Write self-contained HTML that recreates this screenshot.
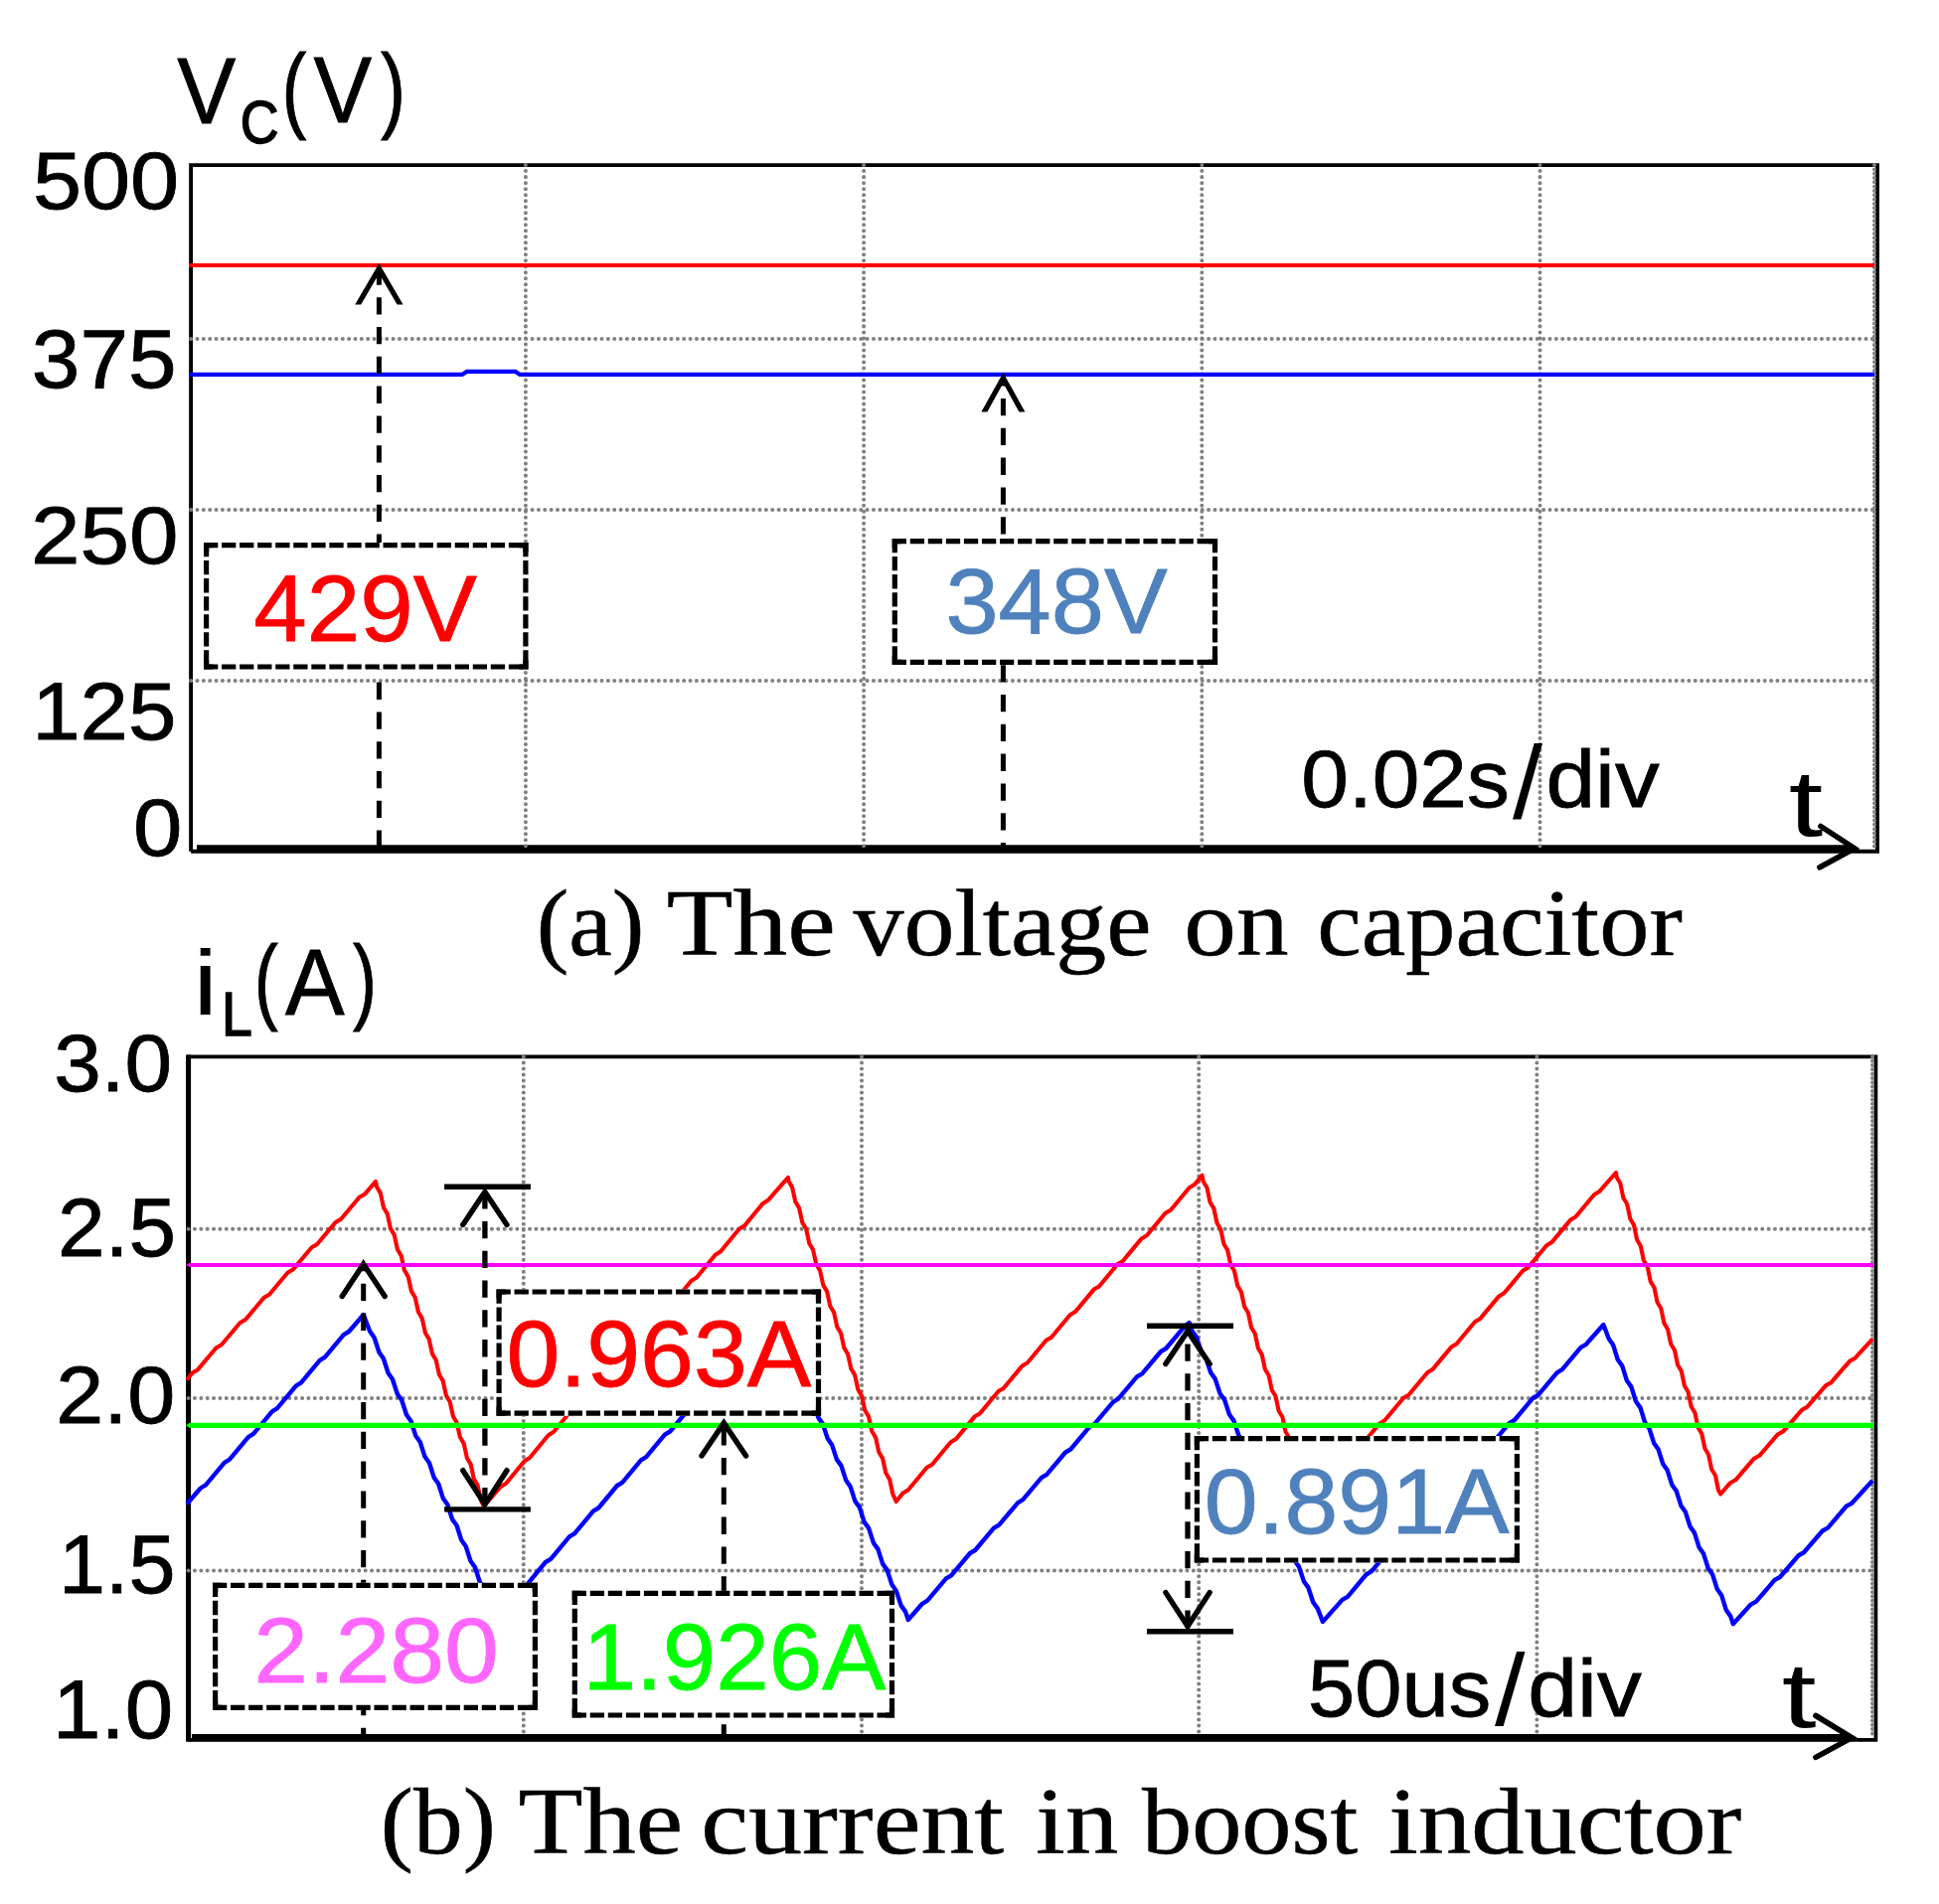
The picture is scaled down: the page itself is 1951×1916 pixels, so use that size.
<!DOCTYPE html>
<html><head><meta charset="utf-8"><title>Figure</title>
<style>html,body{margin:0;padding:0;background:#fff}svg{display:block}</style></head>
<body>
<svg width="1951" height="1916" viewBox="0 0 1951 1916">
<style>.grid{stroke:#808080;stroke-width:4;stroke-linecap:round;fill:none} text{font-kerning:none;white-space:pre}</style>
<rect width="1951" height="1916" fill="#fff"/>
<polyline points="192.1,856.8 192.1,166.1 1889,166.1 1889,856.8 192.1,856.8" fill="none" stroke="#000" stroke-width="3.9" stroke-linejoin="miter"/>
<line x1="198" y1="853.7" x2="1864" y2="853.7" stroke="#000" stroke-width="7"/>
<line x1="192.1" y1="341" x2="1886" y2="341" class="grid" stroke-dasharray="0.01 6.35"/>
<line x1="192.1" y1="513.1" x2="1886" y2="513.1" class="grid" stroke-dasharray="0.01 6.35"/>
<line x1="192.1" y1="685" x2="1886" y2="685" class="grid" stroke-dasharray="0.01 6.35"/>
<line x1="528.9" y1="166.1" x2="528.9" y2="852.8" class="grid" stroke-dasharray="0.01 6.0"/>
<line x1="869.1" y1="166.1" x2="869.1" y2="852.8" class="grid" stroke-dasharray="0.01 6.0"/>
<line x1="1209.3" y1="166.1" x2="1209.3" y2="852.8" class="grid" stroke-dasharray="0.01 6.0"/>
<line x1="1549.5" y1="166.1" x2="1549.5" y2="852.8" class="grid" stroke-dasharray="0.01 6.0"/>
<line x1="1886" y1="166.1" x2="1886" y2="852.8" class="grid" stroke-dasharray="0.01 4.3"/>
<line x1="190.2" y1="267" x2="1886" y2="267" stroke="#f00" stroke-width="4"/>
<polyline points="190.2,376.9 465,376.9 469.7,373.9 518.6,373.9 523,376.9 1886,376.9" fill="none" stroke="#00f" stroke-width="4.2"/>
<line x1="381.4" y1="271" x2="381.4" y2="854" stroke="#000" stroke-width="5.0" stroke-dasharray="17.3 12.5" stroke-dashoffset="1.60"/>
<polygon points="381.4,265.0 405.6,306.5 399.6,306.5 381.4,275.2 363.2,306.5 357.2,306.5" fill="#000"/>
<line x1="1009.4" y1="381" x2="1009.4" y2="854" stroke="#000" stroke-width="5.0" stroke-dasharray="17.3 12.5" stroke-dashoffset="9.80"/>
<polygon points="1009.4,375.0 1031.4,414.5 1025.4,414.5 1009.4,385.5 993.4,414.5 987.4,414.5" fill="#000"/>
<polyline points="1832,831.5 1866,853.7 1831,872.8" fill="none" stroke="#000" stroke-width="5.6" stroke-linecap="round" stroke-linejoin="miter"/>
<rect x="205.0" y="546.0" width="326.5" height="127.6" fill="#fff"/>
<path d="M205.0,548.6H531.5M528.9,546.0V673.6M205.0,671H531.5M207.6,546.0V673.6" stroke="#000" stroke-width="5.2" stroke-dasharray="14.3 3.75" fill="none"/>
<path d="M205.0,548.6h9.2M531.5,548.6h-9.2M205.0,671h9.2M531.5,671h-9.2M207.6,546.0v9.2M528.9,546.0v9.2M207.6,673.6v-9.2M528.9,673.6v-9.2" stroke="#000" stroke-width="5.2" fill="none"/>
<rect x="897.7" y="542.0" width="327.4" height="127.0" fill="#fff"/>
<path d="M897.7,544.6H1225.1M1222.5,542.0V669.0M897.7,666.4H1225.1M900.3,542.0V669.0" stroke="#000" stroke-width="5.2" stroke-dasharray="14.3 3.75" fill="none"/>
<path d="M897.7,544.6h9.2M1225.1,544.6h-9.2M897.7,666.4h9.2M1225.1,666.4h-9.2M900.3,542.0v9.2M1222.5,542.0v9.2M900.3,669.0v-9.2M1222.5,669.0v-9.2" stroke="#000" stroke-width="5.2" fill="none"/>
<text transform="translate(255.14,644.60) scale(1.0176,1)" font-size="94.55" fill="#f00" stroke="#f00" stroke-width="0.8" font-family='"Liberation Sans", Arial, sans-serif'>429V</text>
<text transform="translate(951.41,637.30) scale(1.0320,1)" font-size="92.65" fill="#4f81bd" stroke="#4f81bd" stroke-width="0.8" font-family='"Liberation Sans", Arial, sans-serif'>348V</text>
<text y="123.50" fill="#000" stroke="#000" stroke-width="0.8" font-family='"Liberation Sans", Arial, sans-serif'><tspan x="178.36" dy="0.00" font-size="94.98" textLength="59.04" lengthAdjust="spacingAndGlyphs">V</tspan><tspan x="241.72" dy="20.48" font-size="61.77" stroke-width="1.6" textLength="38.71" lengthAdjust="spacingAndGlyphs">C</tspan><tspan x="283.53" dy="-23.48" font-size="93.94" textLength="24.87" lengthAdjust="spacingAndGlyphs">(</tspan><tspan x="315.56" dy="2.99" font-size="94.98" textLength="58.64" lengthAdjust="spacingAndGlyphs">V</tspan><tspan x="382.93" dy="-2.99" font-size="93.94" textLength="25.12" lengthAdjust="spacingAndGlyphs">)</tspan></text>
<text transform="translate(32.97,210.38) scale(1.0820,1)" font-size="81.55" fill="#000" stroke="#000" stroke-width="0.8" font-family='"Liberation Sans", Arial, sans-serif'>500</text>
<text transform="translate(31.82,390.47) scale(1.0583,1)" font-size="82.54" fill="#000" stroke="#000" stroke-width="0.8" font-family='"Liberation Sans", Arial, sans-serif'>375</text>
<text transform="translate(30.94,567.38) scale(1.0852,1)" font-size="82.12" fill="#000" stroke="#000" stroke-width="0.8" font-family='"Liberation Sans", Arial, sans-serif'>250</text>
<text transform="translate(32.16,744.18) scale(1.0612,1)" font-size="82.12" fill="#000" stroke="#000" stroke-width="0.8" font-family='"Liberation Sans", Arial, sans-serif'>125</text>
<text transform="translate(134.05,861.38) scale(1.0813,1)" font-size="82.12" fill="#000" stroke="#000" stroke-width="0.8" font-family='"Liberation Sans", Arial, sans-serif'>0</text>
<text y="812.08" fill="#000" stroke="#000" stroke-width="0.8" font-family='"Liberation Sans", Arial, sans-serif'><tspan x="1309.27" dy="0.00" font-size="82.12" textLength="209.52" lengthAdjust="spacingAndGlyphs">0.02s</tspan><tspan x="1522.00" dy="10.79" font-size="102.99" stroke-width="0" textLength="30.04" lengthAdjust="spacingAndGlyphs">/</tspan><tspan x="1555.40" dy="-10.79" font-size="82.12" textLength="114.32" lengthAdjust="spacingAndGlyphs">div</tspan></text>
<text transform="translate(1799.84,840.59) scale(1.3211,1)" font-size="94.10" fill="#000" font-family='"Liberation Sans", Arial, sans-serif'>t</text>
<text y="961.40" fill="#000" stroke="#000" stroke-width="0.5" font-family='"Liberation Serif", "Times New Roman", serif'><tspan x="539.70" dy="0.00" font-size="94.50" textLength="108.55" lengthAdjust="spacingAndGlyphs">(a)</tspan> <tspan x="670.69" dy="0.00" font-size="94.50" textLength="170.01" lengthAdjust="spacingAndGlyphs">The</tspan> <tspan x="858.50" dy="0.00" font-size="94.50" textLength="300.10" lengthAdjust="spacingAndGlyphs">voltage</tspan> <tspan x="1191.35" dy="0.00" font-size="94.50" textLength="105.22" lengthAdjust="spacingAndGlyphs">on</tspan> <tspan x="1325.24" dy="0.00" font-size="94.50" textLength="367.57" lengthAdjust="spacingAndGlyphs">capacitor</tspan></text>
<polyline points="189.6,1750.9 189.6,1063.4 1887.4,1063.4 1887.4,1750.9 189.6,1750.9" fill="none" stroke="#000" stroke-width="3.8" stroke-linejoin="miter"/>
<line x1="189.6" y1="1061.4" x2="189.6" y2="1752.7" stroke="#000" stroke-width="5"/>
<line x1="193" y1="1748.6" x2="1861" y2="1748.6" stroke="#000" stroke-width="7.4"/>
<line x1="189.6" y1="1236.8" x2="1884.4" y2="1236.8" class="grid" stroke-dasharray="0.01 6.35"/>
<line x1="189.6" y1="1407" x2="1884.4" y2="1407" class="grid" stroke-dasharray="0.01 6.35"/>
<line x1="189.6" y1="1580.6" x2="1884.4" y2="1580.6" class="grid" stroke-dasharray="0.01 6.35"/>
<line x1="526.8" y1="1063.4" x2="526.8" y2="1746.9" class="grid" stroke-dasharray="0.01 6.0"/>
<line x1="867" y1="1063.4" x2="867" y2="1746.9" class="grid" stroke-dasharray="0.01 6.0"/>
<line x1="1206.2" y1="1063.4" x2="1206.2" y2="1746.9" class="grid" stroke-dasharray="0.01 6.0"/>
<line x1="1546.4" y1="1063.4" x2="1546.4" y2="1746.9" class="grid" stroke-dasharray="0.01 6.0"/>
<line x1="1884" y1="1063.4" x2="1884" y2="1746.9" class="grid" stroke-dasharray="0.01 4.3"/>
<polyline points="188.0,1388.6 193.6,1381.5 198.9,1378.4 217.6,1356.2 222.9,1353.2 241.6,1331.0 246.9,1328.0 265.6,1305.8 270.9,1302.7 289.6,1280.5 294.9,1277.5 313.6,1255.3 318.9,1252.2 337.6,1230.1 342.9,1227.0 361.6,1204.8 366.9,1201.8 378.0,1188.8 379.0,1194.3 382.8,1200.6 386.0,1215.3 389.8,1221.6 392.9,1236.3 396.7,1242.6 399.9,1257.3 403.7,1263.6 406.9,1278.3 410.7,1284.6 413.9,1299.3 417.7,1305.6 420.9,1320.3 424.7,1326.6 427.9,1341.3 431.7,1347.6 434.9,1362.3 438.7,1368.6 441.9,1383.3 445.7,1389.6 448.9,1404.3 452.7,1410.6 455.9,1425.3 459.7,1431.6 462.9,1446.3 466.7,1452.6 469.9,1467.3 473.7,1473.6 476.8,1488.3 480.6,1494.6 483.8,1509.3 486.8,1515.6 503.7,1496.1 509.0,1492.9 527.7,1470.2 533.0,1467.0 551.7,1444.2 557.0,1441.0 575.7,1418.3 581.0,1415.1 599.7,1392.4 605.0,1389.2 623.7,1366.5 629.0,1363.2 647.7,1340.5 653.0,1337.3 671.7,1314.6 677.0,1311.4 695.7,1288.7 701.0,1285.5 719.7,1262.7 725.0,1259.5 743.7,1236.8 749.0,1233.6 767.7,1210.9 773.0,1207.7 793.0,1184.8 793.3,1188.3 797.1,1194.6 800.3,1209.3 804.1,1215.6 807.3,1230.3 811.1,1236.6 814.3,1251.3 818.1,1257.6 821.3,1272.3 825.1,1278.6 828.3,1293.3 832.1,1299.6 835.3,1314.3 839.1,1320.6 842.3,1335.3 846.1,1341.6 849.3,1356.3 853.1,1362.6 856.3,1377.3 860.1,1383.6 863.3,1398.3 867.1,1404.6 870.3,1419.3 874.1,1425.6 877.3,1440.3 881.1,1446.6 884.3,1461.3 888.1,1467.6 891.3,1482.3 895.1,1488.6 898.3,1503.3 901.7,1511.0 908.6,1502.4 913.9,1499.3 932.6,1476.8 937.9,1473.7 956.6,1451.2 961.9,1448.1 980.6,1425.6 985.9,1422.5 1004.6,1400.0 1009.9,1396.9 1028.6,1374.4 1033.9,1371.3 1052.6,1348.8 1057.9,1345.7 1076.6,1323.2 1081.9,1320.1 1100.6,1297.6 1105.9,1294.5 1124.6,1272.0 1129.9,1268.9 1148.6,1246.4 1153.9,1243.3 1172.6,1220.8 1177.9,1217.7 1196.6,1195.2 1201.9,1192.1 1209.5,1182.7 1210.6,1188.7 1214.4,1195.0 1217.5,1209.7 1221.3,1216.0 1224.5,1230.7 1228.2,1237.0 1231.4,1251.7 1235.1,1258.0 1238.3,1272.7 1242.0,1279.0 1245.2,1293.7 1248.9,1300.0 1252.1,1314.7 1255.9,1321.0 1259.0,1335.7 1262.8,1342.0 1265.9,1356.7 1269.7,1363.0 1272.8,1377.7 1276.6,1384.0 1279.7,1398.7 1283.5,1405.0 1286.6,1419.7 1290.4,1426.0 1293.5,1440.7 1297.3,1447.0 1300.4,1461.7 1304.2,1468.0 1307.3,1482.7 1311.1,1489.0 1314.3,1503.7 1317.0,1509.5 1321.4,1506.0 1340.2,1483.6 1345.4,1480.4 1364.2,1458.0 1369.4,1454.8 1388.2,1432.4 1393.4,1429.2 1412.2,1406.8 1417.4,1403.7 1436.2,1381.2 1441.4,1378.1 1460.2,1355.6 1465.4,1352.5 1484.2,1330.0 1489.4,1326.9 1508.2,1304.4 1513.4,1301.3 1532.2,1278.8 1537.4,1275.7 1556.2,1253.2 1561.4,1250.1 1580.2,1227.6 1585.4,1224.5 1604.2,1202.0 1609.4,1198.9 1626.0,1180.0 1626.6,1184.5 1630.3,1190.8 1633.4,1205.5 1637.2,1211.8 1640.3,1226.5 1644.0,1232.8 1647.1,1247.5 1650.8,1253.8 1653.9,1268.5 1657.7,1274.8 1660.7,1289.5 1664.5,1295.8 1667.6,1310.5 1671.3,1316.8 1674.4,1331.5 1678.1,1337.8 1681.2,1352.5 1685.0,1358.8 1688.1,1373.5 1691.8,1379.8 1694.9,1394.5 1698.6,1400.8 1701.7,1415.5 1705.5,1421.8 1708.5,1436.5 1712.3,1442.8 1715.4,1457.5 1719.1,1463.8 1722.2,1478.5 1726.0,1484.8 1729.0,1499.5 1731.2,1503.5 1741.0,1492.2 1746.3,1489.3 1765.0,1467.7 1770.3,1464.8 1789.0,1443.2 1794.3,1440.4 1813.0,1418.8 1818.3,1415.9 1837.0,1394.3 1842.3,1391.4 1861.0,1369.8 1866.3,1366.9 1884.0,1347.6" fill="none" stroke="#f00" stroke-width="4.1" stroke-linejoin="round"/>
<polyline points="188.0,1513.5 201.8,1497.5 207.0,1494.3 225.8,1471.8 231.0,1468.6 249.8,1446.1 255.0,1442.9 273.8,1420.3 279.0,1417.2 297.8,1394.6 303.0,1391.4 321.8,1368.9 327.0,1365.7 345.8,1343.1 351.0,1340.0 365.7,1323.0 372.2,1339.7 376.6,1346.0 381.4,1360.7 385.8,1367.0 390.6,1381.7 395.0,1388.0 399.8,1402.7 404.2,1409.0 409.0,1423.7 413.5,1430.0 418.2,1444.7 422.7,1451.0 427.4,1465.7 431.9,1472.0 436.6,1486.7 441.1,1493.0 445.8,1507.7 450.3,1514.0 455.0,1528.7 459.5,1535.0 464.2,1549.7 468.7,1556.0 473.4,1570.7 477.9,1577.0 482.7,1591.7 487.1,1598.0 491.9,1612.7 496.3,1619.0 498.9,1626.8 506.2,1620.3 524.9,1597.7 530.2,1594.6 548.9,1572.0 554.2,1568.9 572.9,1546.4 578.2,1543.2 596.9,1520.7 602.2,1517.5 620.9,1495.0 626.2,1491.8 644.9,1469.3 650.2,1466.2 668.9,1443.6 674.2,1440.5 692.9,1418.0 698.2,1414.8 716.9,1392.3 722.2,1389.1 740.9,1366.6 746.2,1363.4 764.9,1340.9 770.2,1337.8 780.0,1326.0 786.5,1342.6 790.9,1348.9 795.7,1363.6 800.2,1369.9 804.9,1384.6 809.4,1390.9 814.2,1405.6 818.7,1411.9 823.4,1426.6 827.9,1432.9 832.7,1447.6 837.1,1453.9 841.9,1468.6 846.4,1474.9 851.2,1489.6 855.6,1495.9 860.4,1510.6 864.9,1516.9 869.6,1531.6 874.1,1537.9 878.9,1552.6 883.4,1558.9 888.1,1573.6 892.6,1579.9 897.4,1594.6 901.8,1600.9 906.6,1615.6 911.1,1621.9 913.8,1630.0 928.0,1613.8 933.2,1610.7 952.0,1588.4 957.2,1585.3 976.0,1563.0 981.2,1560.0 1000.0,1537.7 1005.2,1534.6 1024.0,1512.3 1029.2,1509.2 1048.0,1486.9 1053.2,1483.8 1072.0,1461.5 1077.2,1458.5 1096.0,1436.2 1101.2,1433.1 1120.0,1410.8 1125.2,1407.7 1144.0,1385.4 1149.2,1382.3 1168.0,1360.0 1173.2,1357.0 1192.0,1334.7 1196.6,1331.0 1199.4,1339.3 1203.9,1345.6 1208.8,1360.3 1213.3,1366.6 1218.2,1381.3 1222.7,1387.6 1227.5,1402.3 1232.1,1408.6 1236.9,1423.3 1241.4,1429.6 1246.3,1444.3 1250.8,1450.6 1255.7,1465.3 1260.2,1471.6 1265.0,1486.3 1269.5,1492.6 1274.4,1507.3 1278.9,1513.6 1283.8,1528.3 1288.3,1534.6 1293.1,1549.3 1297.6,1555.6 1302.5,1570.3 1307.0,1576.6 1311.9,1591.3 1316.4,1597.6 1321.2,1612.3 1325.8,1618.6 1330.9,1632.0 1350.6,1609.9 1355.9,1606.8 1374.6,1584.5 1379.9,1581.4 1398.6,1559.1 1403.9,1556.0 1422.6,1533.7 1427.9,1530.6 1446.6,1508.3 1451.9,1505.2 1470.6,1482.9 1475.9,1479.8 1494.6,1457.5 1499.9,1454.4 1518.6,1432.1 1523.9,1429.0 1542.6,1406.7 1547.9,1403.6 1566.6,1381.3 1571.9,1378.2 1590.6,1355.9 1595.9,1352.8 1613.4,1333.0 1618.8,1347.3 1623.2,1353.6 1627.8,1368.3 1632.3,1374.6 1636.9,1389.3 1641.4,1395.6 1646.0,1410.3 1650.5,1416.6 1655.1,1431.3 1659.5,1437.6 1664.2,1452.3 1668.6,1458.6 1673.3,1473.3 1677.7,1479.6 1682.4,1494.3 1686.8,1500.6 1691.5,1515.3 1695.9,1521.6 1700.6,1536.3 1705.0,1542.6 1709.7,1557.3 1714.1,1563.6 1718.8,1578.3 1723.2,1584.6 1727.9,1599.3 1732.3,1605.6 1736.9,1620.3 1741.4,1626.6 1743.8,1634.2 1761.7,1614.6 1767.0,1611.6 1785.7,1589.9 1791.0,1587.0 1809.7,1565.2 1815.0,1562.3 1833.7,1540.5 1839.0,1537.6 1857.7,1515.8 1863.0,1512.9 1884.0,1490.0" fill="none" stroke="#00f" stroke-width="4.4" stroke-linejoin="round"/>
<polygon points="187,1273 191,1271.1 1885,1271.1 1885,1274.9 191,1274.9" fill="#f0f"/>
<polygon points="187,1434.3 191,1431.7 1885,1431.7 1885,1436.9 191,1436.9" fill="#0f0"/>
<line x1="365.7" y1="1272" x2="365.7" y2="1749" stroke="#000" stroke-width="5.0" stroke-dasharray="17.3 12.5" stroke-dashoffset="10.00"/>
<polyline points="344.2,1304.4 365.7,1272.0 387.2,1304.4" fill="none" stroke="#000" stroke-width="5.4" stroke-linecap="round" stroke-linejoin="miter" stroke-miterlimit="10"/>
<line x1="728.3" y1="1432" x2="728.3" y2="1749" stroke="#000" stroke-width="5.0" stroke-dasharray="17.3 12.5" stroke-dashoffset="24.60"/>
<polyline points="706.0,1465 728.3,1431.9 750.6,1465" fill="none" stroke="#000" stroke-width="5.4" stroke-linecap="round" stroke-linejoin="miter" stroke-miterlimit="10"/>
<line x1="487.9" y1="1196" x2="487.9" y2="1517" stroke="#000" stroke-width="5.3" stroke-dasharray="17.3 12.5" stroke-dashoffset="26.70"/>
<line x1="447.1" y1="1194.3" x2="533.9" y2="1194.3" stroke="#000" stroke-width="5.4"/>
<line x1="447.1" y1="1518.9" x2="533.9" y2="1518.9" stroke="#000" stroke-width="5.4"/>
<polyline points="465.8,1232.5 487.9,1199.4 510.0,1232.5" fill="none" stroke="#000" stroke-width="5.4" stroke-linecap="round" stroke-linejoin="miter" stroke-miterlimit="10"/>
<polyline points="465.8,1479.7 487.9,1513.9 510.0,1479.7" fill="none" stroke="#000" stroke-width="5.4" stroke-linecap="round" stroke-linejoin="miter" stroke-miterlimit="10"/>
<line x1="1195" y1="1336" x2="1195" y2="1640" stroke="#000" stroke-width="5.3" stroke-dasharray="17.3 12.5" stroke-dashoffset="13.40"/>
<line x1="1154" y1="1334.3" x2="1241" y2="1334.3" stroke="#000" stroke-width="5.4"/>
<line x1="1154" y1="1641.7" x2="1241" y2="1641.7" stroke="#000" stroke-width="5.4"/>
<polyline points="1172.9,1372.5 1195,1339.4 1217.1,1372.5" fill="none" stroke="#000" stroke-width="5.4" stroke-linecap="round" stroke-linejoin="miter" stroke-miterlimit="10"/>
<polyline points="1172.9,1602.6 1195,1636.5 1217.1,1602.6" fill="none" stroke="#000" stroke-width="5.4" stroke-linecap="round" stroke-linejoin="miter" stroke-miterlimit="10"/>
<polyline points="1827,1726.5 1863.3,1748.6 1827,1768.4" fill="none" stroke="#000" stroke-width="5.6" stroke-linecap="round" stroke-linejoin="miter"/>
<rect x="499.5" y="1297.4" width="326.6" height="127.4" fill="#fff"/>
<path d="M499.5,1300H826.1M823.5,1297.4V1424.8M499.5,1422.2H826.1M502.1,1297.4V1424.8" stroke="#000" stroke-width="5.2" stroke-dasharray="14.3 3.75" fill="none"/>
<path d="M499.5,1300h9.2M826.1,1300h-9.2M499.5,1422.2h9.2M826.1,1422.2h-9.2M502.1,1297.4v9.2M823.5,1297.4v9.2M502.1,1424.8v-9.2M823.5,1424.8v-9.2" stroke="#000" stroke-width="5.2" fill="none"/>
<rect x="214.0" y="1592.8" width="327.0" height="128.2" fill="#fff"/>
<path d="M214.0,1595.4H541.0M538.4,1592.8V1721.0M214.0,1718.4H541.0M216.6,1592.8V1721.0" stroke="#000" stroke-width="5.2" stroke-dasharray="14.3 3.75" fill="none"/>
<path d="M214.0,1595.4h9.2M541.0,1595.4h-9.2M214.0,1718.4h9.2M541.0,1718.4h-9.2M216.6,1592.8v9.2M538.4,1592.8v9.2M216.6,1721.0v-9.2M538.4,1721.0v-9.2" stroke="#000" stroke-width="5.2" fill="none"/>
<rect x="575.7" y="1600.8" width="324.4" height="127.8" fill="#fff"/>
<path d="M575.7,1603.4H900.1M897.5,1600.8V1728.6M575.7,1726H900.1M578.3,1600.8V1728.6" stroke="#000" stroke-width="5.2" stroke-dasharray="14.3 3.75" fill="none"/>
<path d="M575.7,1603.4h9.2M900.1,1603.4h-9.2M575.7,1726h9.2M900.1,1726h-9.2M578.3,1600.8v9.2M897.5,1600.8v9.2M578.3,1728.6v-9.2M897.5,1728.6v-9.2" stroke="#000" stroke-width="5.2" fill="none"/>
<rect x="1201.8" y="1445.0" width="327.2" height="127.6" fill="#fff"/>
<path d="M1201.8,1447.6H1529.0M1526.4,1445.0V1572.6M1201.8,1570H1529.0M1204.4,1445.0V1572.6" stroke="#000" stroke-width="5.2" stroke-dasharray="14.3 3.75" fill="none"/>
<path d="M1201.8,1447.6h9.2M1529.0,1447.6h-9.2M1201.8,1570h9.2M1529.0,1570h-9.2M1204.4,1445.0v9.2M1526.4,1445.0v9.2M1204.4,1572.6v-9.2M1526.4,1572.6v-9.2" stroke="#000" stroke-width="5.2" fill="none"/>
<text transform="translate(509.53,1395.06) scale(1.0344,1)" font-size="93.57" fill="#f00" stroke="#f00" stroke-width="0.8" font-family='"Liberation Sans", Arial, sans-serif'>0.963A</text>
<text transform="translate(255.27,1693.47) scale(1.0548,1)" font-size="93.43" fill="#f6f" stroke="#f6f" stroke-width="0.8" font-family='"Liberation Sans", Arial, sans-serif'>2.280</text>
<text transform="translate(586.38,1699.75) scale(1.0184,1)" font-size="94.56" fill="#0f0" stroke="#0f0" stroke-width="0.8" font-family='"Liberation Sans", Arial, sans-serif'>1.926A</text>
<text transform="translate(1211.83,1543.47) scale(1.0372,1)" font-size="93.29" fill="#4f81bd" stroke="#4f81bd" stroke-width="0.8" font-family='"Liberation Sans", Arial, sans-serif'>0.891A</text>
<text y="1021.10" fill="#000" stroke="#000" stroke-width="0.8" font-family='"Liberation Sans", Arial, sans-serif'><tspan x="194.24" dy="0.00" font-size="92.00" stroke-width="0" textLength="24.88" lengthAdjust="spacingAndGlyphs">i</tspan><tspan x="223.12" dy="21.00" font-size="62.11" stroke-width="1.6" textLength="30.84" lengthAdjust="spacingAndGlyphs">L</tspan><tspan x="255.78" dy="-23.70" font-size="94.48" textLength="24.10" lengthAdjust="spacingAndGlyphs">(</tspan><tspan x="286.88" dy="2.70" font-size="94.55" textLength="59.60" lengthAdjust="spacingAndGlyphs">A</tspan><tspan x="355.06" dy="-2.70" font-size="94.48" textLength="24.10" lengthAdjust="spacingAndGlyphs">)</tspan></text>
<text transform="translate(54.29,1098.48) scale(1.0400,1)" font-size="82.26" fill="#000" stroke="#000" stroke-width="0.8" font-family='"Liberation Sans", Arial, sans-serif'>3.0</text>
<text transform="translate(58.12,1264.17) scale(1.0288,1)" font-size="83.30" fill="#000" stroke="#000" stroke-width="0.8" font-family='"Liberation Sans", Arial, sans-serif'>2.5</text>
<text transform="translate(56.28,1432.38) scale(1.0482,1)" font-size="82.40" fill="#000" stroke="#000" stroke-width="0.8" font-family='"Liberation Sans", Arial, sans-serif'>2.0</text>
<text transform="translate(58.96,1603.26) scale(1.0098,1)" font-size="83.73" fill="#000" stroke="#000" stroke-width="0.8" font-family='"Liberation Sans", Arial, sans-serif'>1.5</text>
<text transform="translate(53.07,1748.57) scale(1.0555,1)" font-size="82.54" fill="#000" stroke="#000" stroke-width="0.8" font-family='"Liberation Sans", Arial, sans-serif'>1.0</text>
<text y="1726.78" fill="#000" stroke="#000" stroke-width="0.8" font-family='"Liberation Sans", Arial, sans-serif'><tspan x="1316.00" dy="0.00" font-size="82.26" textLength="184.26" lengthAdjust="spacingAndGlyphs">50us</tspan><tspan x="1504.00" dy="9.70" font-size="102.18" stroke-width="0" textLength="30.54" lengthAdjust="spacingAndGlyphs">/</tspan><tspan x="1537.19" dy="-9.70" font-size="82.26" textLength="114.74" lengthAdjust="spacingAndGlyphs">div</tspan></text>
<text transform="translate(1792.72,1738.41) scale(1.3624,1)" font-size="92.11" fill="#000" font-family='"Liberation Sans", Arial, sans-serif'>t</text>
<text y="1865.20" fill="#000" stroke="#000" stroke-width="0.5" font-family='"Liberation Serif", "Times New Roman", serif'><tspan x="382.82" dy="0.00" font-size="94.50" textLength="116.01" lengthAdjust="spacingAndGlyphs">(b)</tspan> <tspan x="521.54" dy="0.00" font-size="94.50" textLength="165.56" lengthAdjust="spacingAndGlyphs">The</tspan> <tspan x="705.36" dy="0.00" font-size="94.50" textLength="304.77" lengthAdjust="spacingAndGlyphs">current</tspan> <tspan x="1042.37" dy="0.00" font-size="94.50" textLength="82.76" lengthAdjust="spacingAndGlyphs">in</tspan> <tspan x="1149.10" dy="0.00" font-size="94.50" textLength="217.25" lengthAdjust="spacingAndGlyphs">boost</tspan> <tspan x="1397.37" dy="0.00" font-size="94.50" textLength="354.83" lengthAdjust="spacingAndGlyphs">inductor</tspan></text>
</svg>
</body></html>
